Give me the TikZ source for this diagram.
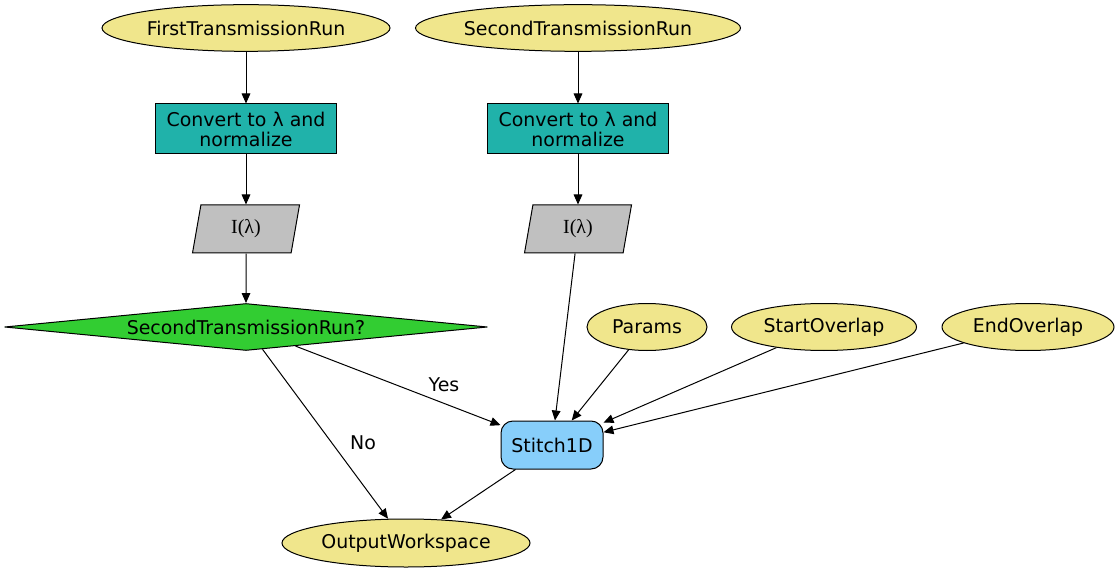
\documentclass[tikz,border=0pt]{standalone}
\usepackage{fontspec}
\setmainfont{DejaVu Sans}
\newfontfamily\lserif{Liberation Serif}
\usetikzlibrary{shapes.geometric,arrows.meta}
\definecolor{khaki}{HTML}{F0E68C}
\definecolor{lsgreen}{HTML}{20B2AA}
\definecolor{silverc}{HTML}{C0C0C0}
\definecolor{limeg}{HTML}{32CD32}
\definecolor{lsky}{HTML}{87CEFA}
\tikzset{
  base/.style={draw=black, line width=0.75pt, inner sep=0pt, align=center, font=\fontsize{14.2}{15}\selectfont},
  elli/.style={base, ellipse, fill=khaki, minimum height=35pt},
  convbox/.style={base, rectangle, fill=lsgreen, minimum width=135.75pt, minimum height=37.5pt},
  para/.style={base, trapezium, trapezium left angle=65.4, trapezium right angle=114.6, trapezium stretches body, fill=silverc, minimum width=80.25pt, minimum height=36pt, font=\lserif\fontsize{15}{16}\selectfont},
  decide/.style={base, diamond, fill=limeg, aspect=10, minimum width=362.25pt, minimum height=35.25pt},
  algo/.style={base, rectangle, rounded corners=9pt, fill=lsky, minimum width=76.5pt, minimum height=36pt},
  edge/.style={line width=0.75pt, -{Triangle[length=7.5pt,width=6.5pt]}},
  lbl/.style={font=\fontsize{14.2}{15}\selectfont, inner sep=0pt}
}
\begin{document}
\begin{tikzpicture}[x=0.75pt,y=-0.75pt]
\useasboundingbox (0,0) rectangle (1119,573);
\node[elli, minimum width=216pt] (ftr) at (246,28) {FirstTransmissionRun};
\node[elli, minimum width=243.75pt] (str) at (578,28) {SecondTransmissionRun};
\node[convbox] (c1) at (246,129) {Convert to λ and\\normalize};
\node[convbox] (c2) at (578,129) {Convert to λ and\\normalize};
\node[para] (i1) at (246,229) {I(λ)};
\node[para] (i2) at (578,229) {I(λ)};
\node[decide] (d) at (246,327) {SecondTransmissionRun?};
\node[elli, minimum width=90pt, minimum height=35.25pt] (params) at (647,327) {Params};
\node[elli, minimum width=138.75pt, minimum height=35.25pt] (so) at (824,327) {StartOverlap};
\node[elli, minimum width=129pt, minimum height=35.25pt] (eo) at (1028,327) {EndOverlap};
\node[algo] (st) at (552,445) {Stitch1D};
\node[elli, minimum width=186pt, minimum height=36pt] (out) at (406,543) {OutputWorkspace};
\node[lbl] (yes) at (444,385) {Yes};
\node[lbl] (no) at (363,443) {No};
\draw[edge] (ftr) -- (c1);
\draw[edge] (c1) -- (i1);
\draw[edge] (i1) -- (d);
\draw[edge] (str) -- (c2);
\draw[edge] (c2) -- (i2);
\draw[edge] (i2) -- (st);
\draw[edge] (d) -- (st);
\draw[edge] (d) -- (out);
\draw[edge] (params) -- (st);
\draw[edge] (so) -- (st);
\draw[edge] (eo) -- (st);
\draw[edge] (st) -- (out);
\end{tikzpicture}
\end{document}
